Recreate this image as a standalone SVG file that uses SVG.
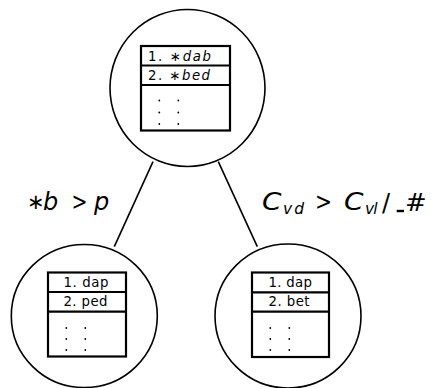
<svg xmlns="http://www.w3.org/2000/svg" width="431" height="388" viewBox="0 0 431 388">
<style>
.c{fill:#fff;stroke:#000;stroke-width:1.6}
.t{fill:#fff;stroke:#000;stroke-width:2.2}
.r{stroke:#000;stroke-width:2.2}
.e{stroke:#000;stroke-width:1.6;fill:none}
.x{font-family:"DejaVu Sans","Liberation Sans",sans-serif;font-size:13.3px;fill:#000}
.d{fill:#000}
.l{font-family:"DejaVu Sans","Liberation Sans",sans-serif;font-size:24px;fill:#000}
.s{font-family:"DejaVu Sans","Liberation Sans",sans-serif;font-size:15.5px;font-style:italic;fill:#000}
.i{font-style:italic}
</style>
<g id="connectors">
<line class="e" x1="153" y1="161.7" x2="114.3" y2="246.7"/>
<line class="e" x1="218.3" y1="161.7" x2="257.3" y2="246.7"/>
</g>
<g id="root">
<ellipse class="c" cx="187.5" cy="88" rx="77.5" ry="78.5"/>
<rect class="t" x="141" y="46" width="89" height="84.5"/>
<line class="r" x1="141" y1="65.5" x2="230" y2="65.5"/>
<line class="r" x1="141" y1="85" x2="230" y2="85"/>
<text class="x" x="148" y="60.5" textLength="63" lengthAdjust="spacing">1. ∗<tspan class="i">dab</tspan></text>
<text class="x" x="148" y="79.5" textLength="62" lengthAdjust="spacing">2. ∗<tspan class="i">bed</tspan></text>
<g class="d"><circle cx="159.3" cy="100.5" r="0.9"/><circle cx="159.3" cy="112.5" r="0.9"/><circle cx="159.3" cy="124" r="0.9"/><circle cx="178.3" cy="100.5" r="0.9"/><circle cx="178.3" cy="112.5" r="0.9"/><circle cx="178.3" cy="124" r="0.9"/></g>
</g>
<g id="left">
<ellipse class="c" cx="84.3" cy="316" rx="73" ry="71.5"/>
<rect class="t" x="48" y="272.5" width="78" height="84"/>
<line class="r" x1="48" y1="292" x2="126" y2="292"/>
<line class="r" x1="48" y1="311.7" x2="126" y2="311.7"/>
<text class="x" x="63.5" y="286.5" textLength="45" lengthAdjust="spacing">1. dap</text>
<text class="x" x="63.5" y="306" textLength="44" lengthAdjust="spacing">2. ped</text>
<g class="d"><circle cx="66.3" cy="328" r="0.9"/><circle cx="66.3" cy="339" r="0.9"/><circle cx="66.3" cy="350" r="0.9"/><circle cx="85.3" cy="328" r="0.9"/><circle cx="85.3" cy="339" r="0.9"/><circle cx="85.3" cy="350" r="0.9"/></g>
</g>
<g id="right">
<ellipse class="c" cx="288" cy="316" rx="73" ry="72"/>
<rect class="t" x="252" y="272.5" width="77" height="84.5"/>
<line class="r" x1="252" y1="292.3" x2="329" y2="292.3"/>
<line class="r" x1="252" y1="311.7" x2="329" y2="311.7"/>
<text class="x" x="268.5" y="286.5" textLength="43.5" lengthAdjust="spacing">1. dap</text>
<text class="x" x="268.5" y="306" textLength="41" lengthAdjust="spacing">2. bet</text>
<g class="d"><circle cx="270.3" cy="328" r="0.9"/><circle cx="270.3" cy="339" r="0.9"/><circle cx="270.3" cy="350" r="0.9"/><circle cx="289.3" cy="328" r="0.9"/><circle cx="289.3" cy="339" r="0.9"/><circle cx="289.3" cy="350" r="0.9"/></g>
</g>
<g id="labels">
<text class="l" x="27" y="209"><tspan font-size="21">∗</tspan><tspan class="i" x="43" y="210">b</tspan></text>
<text class="l" x="71.5" y="210" textLength="16" lengthAdjust="spacingAndGlyphs">&gt;</text>
<text class="l i" x="94" y="210">p</text>
<text class="l i" x="262" y="209.5" textLength="19.5" lengthAdjust="spacingAndGlyphs">C</text>
<text class="s" x="283" y="213.5" textLength="21" lengthAdjust="spacing">vd</text>
<text class="l" x="315" y="210" textLength="17" lengthAdjust="spacingAndGlyphs">&gt;</text>
<text class="l i" x="344" y="209.5" textLength="19.5" lengthAdjust="spacingAndGlyphs">C</text>
<text class="s" x="365" y="213.5" textLength="12.5" lengthAdjust="spacing">vl</text>
<text class="l" x="382" y="211">/</text>
<rect class="d" x="396.7" y="209.8" width="7.3" height="2.4"/>
<text class="l" x="405" y="211" textLength="21.7" lengthAdjust="spacingAndGlyphs">#</text>
</g>
</svg>
